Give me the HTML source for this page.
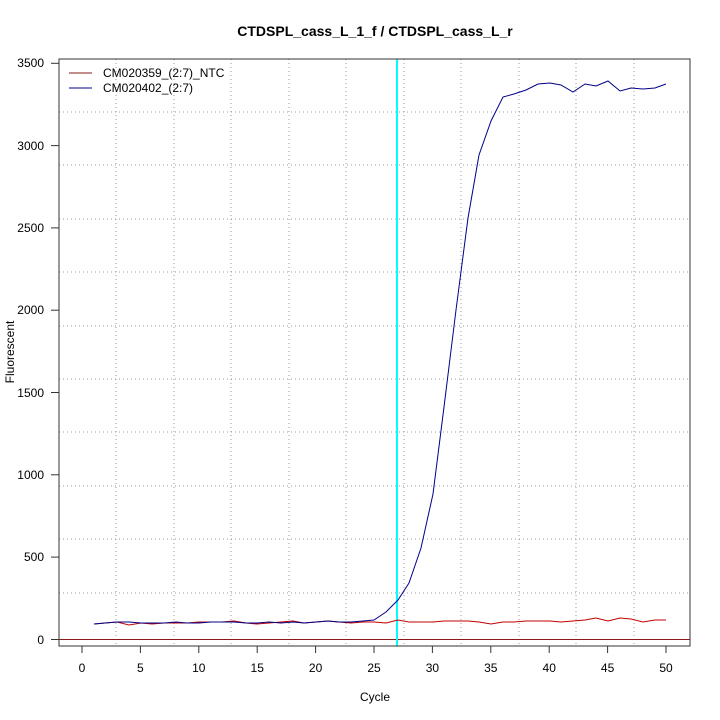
<!DOCTYPE html>
<html><head><style>body{margin:0;background:#fff}svg{display:block}text{font-family:"Liberation Sans",sans-serif}</style></head><body>
<svg width="720" height="720" xmlns="http://www.w3.org/2000/svg">
<rect width="720" height="720" fill="#fff"/>
<text x="375" y="36" font-size="14" font-weight="bold" text-anchor="middle">CTDSPL_cass_L_1_f / CTDSPL_cass_L_r</text>
<g stroke="#999" stroke-dasharray="1,3" stroke-width="1">
<line x1="116" y1="59" x2="116" y2="646"/><line x1="174" y1="59" x2="174" y2="646"/><line x1="231" y1="59" x2="231" y2="646"/><line x1="289" y1="59" x2="289" y2="646"/><line x1="346" y1="59" x2="346" y2="646"/><line x1="404" y1="59" x2="404" y2="646"/><line x1="461" y1="59" x2="461" y2="646"/><line x1="519" y1="59" x2="519" y2="646"/><line x1="576" y1="59" x2="576" y2="646"/><line x1="634" y1="59" x2="634" y2="646"/>
<line x1="59" y1="112" x2="690" y2="112"/><line x1="59" y1="165" x2="690" y2="165"/><line x1="59" y1="219" x2="690" y2="219"/><line x1="59" y1="272" x2="690" y2="272"/><line x1="59" y1="326" x2="690" y2="326"/><line x1="59" y1="379" x2="690" y2="379"/><line x1="59" y1="432" x2="690" y2="432"/><line x1="59" y1="486" x2="690" y2="486"/><line x1="59" y1="539" x2="690" y2="539"/><line x1="59" y1="593" x2="690" y2="593"/>
</g>
<line x1="59" y1="639.5" x2="690" y2="639.5" stroke="#8b1a1a" stroke-width="1"/>
<line x1="397" y1="59" x2="397" y2="646" stroke="#00ffff" stroke-width="2"/>
<polyline fill="none" stroke="#c00000" stroke-width="1" points="94,624 105,623 117,622 129,625 141,623 152,624 164,623 176,623 187,623 199,622 211,622 222,622 234,621 246,623 257,624 269,623 281,622 293,621 304,623 316,622 328,621 339,622 351,623 363,622 374,622 386,623 398,620 409,622 421,622 433,622 444,621 456,621 468,621 479,622 491,624 503,622 514,622 526,621 538,621 550,621 561,622 573,621 585,620 596,618 608,621 620,618 631,619 643,622 655,620 666,620"/>
<polyline fill="none" stroke="#00008b" stroke-width="1" points="94,624 105,623 117,622 129,622 141,623 152,623 164,623 176,622 187,623 199,623 211,622 222,622 234,622 246,623 257,623 269,622 281,623 293,622 304,623 316,622 328,621 339,622 351,622 363,621 374,620 386,612 398,600 409,583 421,548 433,494 444,407 456,310 468,218 479,155 491,121 503,97 514,94 526,90 538,84 550,83 561,85 573,92 585,84 596,86 608,81 620,91 631,88 643,89 655,88 666,84"/>
<rect x="59" y="59" width="631" height="587" fill="none" stroke="#333" stroke-width="1"/>
<line x1="69" y1="73" x2="92" y2="73" stroke="#8b1a1a"/>
<line x1="69" y1="88" x2="92" y2="88" stroke="#00008b"/>
<text x="103" y="77" font-size="12">CM020359_(2:7)_NTC</text>
<text x="103" y="92" font-size="12">CM020402_(2:7)</text>
<g stroke="#333"><line x1="51" y1="63.3" x2="59" y2="63.3"/><line x1="51" y1="145.6" x2="59" y2="145.6"/><line x1="51" y1="227.9" x2="59" y2="227.9"/><line x1="51" y1="310.2" x2="59" y2="310.2"/><line x1="51" y1="392.5" x2="59" y2="392.5"/><line x1="51" y1="474.8" x2="59" y2="474.8"/><line x1="51" y1="557.1" x2="59" y2="557.1"/><line x1="51" y1="639.5" x2="59" y2="639.5"/></g>
<g font-size="12" text-anchor="end"><text x="44" y="67">3500</text><text x="44" y="150">3000</text><text x="44" y="232">2500</text><text x="44" y="314">2000</text><text x="44" y="397">1500</text><text x="44" y="479">1000</text><text x="44" y="561">500</text><text x="44" y="644">0</text></g>
<g stroke="#333"><line x1="82" y1="646" x2="82" y2="653"/><line x1="140.4" y1="646" x2="140.4" y2="653"/><line x1="198.8" y1="646" x2="198.8" y2="653"/><line x1="257.2" y1="646" x2="257.2" y2="653"/><line x1="315.6" y1="646" x2="315.6" y2="653"/><line x1="374" y1="646" x2="374" y2="653"/><line x1="432.4" y1="646" x2="432.4" y2="653"/><line x1="490.8" y1="646" x2="490.8" y2="653"/><line x1="549.2" y1="646" x2="549.2" y2="653"/><line x1="607.6" y1="646" x2="607.6" y2="653"/><line x1="666" y1="646" x2="666" y2="653"/></g>
<g font-size="12" text-anchor="middle"><text x="82" y="672">0</text><text x="140.4" y="672">5</text><text x="198.8" y="672">10</text><text x="257.2" y="672">15</text><text x="315.6" y="672">20</text><text x="374" y="672">25</text><text x="432.4" y="672">30</text><text x="490.8" y="672">35</text><text x="549.2" y="672">40</text><text x="607.6" y="672">45</text><text x="666" y="672">50</text></g>
<text x="375" y="701" font-size="12" text-anchor="middle">Cycle</text>
<text x="14" y="352" font-size="12" text-anchor="middle" transform="rotate(-90 14 352)">Fluorescent</text>
</svg>
</body></html>
